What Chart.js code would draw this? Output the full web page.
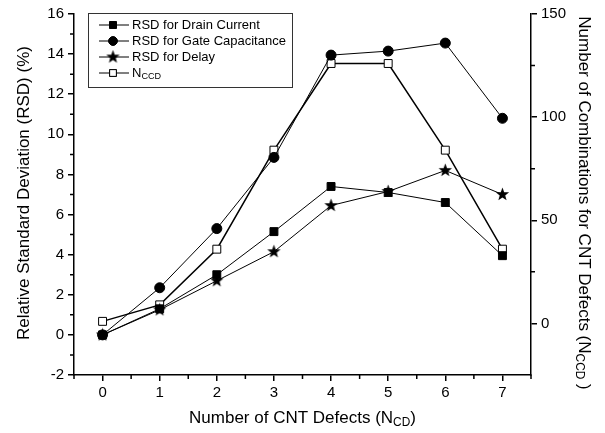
<!DOCTYPE html>
<html>
<head>
<meta charset="utf-8">
<script src="https://cdn.jsdelivr.net/npm/chart.js@4.4.1/dist/chart.umd.min.js"></script>
<style>
  html, body { margin: 0; padding: 0; background: #fff; }
  #wrap { width: 605px; height: 433px; }
</style>
</head>
<body>
<div id="wrap"><canvas id="chart" width="605" height="433"></canvas></div>
<script>
// data
const defects = [0, 1, 2, 3, 4, 5, 6, 7];
const rsdDrain = [0, 1.3, 3.0, 5.15, 7.4, 7.1, 6.6, 3.95];
const rsdGate = [0, 2.35, 5.3, 8.85, 13.95, 14.15, 14.55, 10.8];
const rsdDelay = [0, 1.25, 2.7, 4.15, 6.45, 7.15, 8.2, 7.0];
const nccd = [1, 9, 36, 84, 126, 126, 84, 36];

const leftTicks = [-2, 0, 2, 4, 6, 8, 10, 12, 14, 16];
const rightTicks = [0, 50, 100, 150];

const FONT = "'Liberation Sans', Arial, sans-serif";

// filled 5-point star used as a point style
function makeStar(size, outer, inner) {
    const c = document.createElement('canvas');
    c.width = size; c.height = size;
    const g = c.getContext('2d');
    g.fillStyle = '#000';
    g.beginPath();
    for (let i = 0; i < 10; i++) {
        const r = i % 2 ? inner : outer;
        const a = -Math.PI / 2 + i * Math.PI / 5;
        g.lineTo(size / 2 + r * Math.cos(a), size / 2 + r * Math.sin(a));
    }
    g.closePath();
    g.fill();
    return c;
}
const star = makeStar(15, 7, 2.9);

const pts = arr => arr.map((v, i) => ({ x: defects[i], y: v }));

const datasets = [
    { label: 'RSD for Drain Current', data: pts(rsdDrain), yAxisID: 'y',
      pointStyle: 'rect', pointRadius: 5.6, pointBackgroundColor: '#000', borderWidth: 1 },
    { label: 'RSD for Gate Capacitance', data: pts(rsdGate), yAxisID: 'y',
      pointStyle: 'circle', pointRadius: 5, pointBackgroundColor: '#000', borderWidth: 1 },
    { label: 'RSD for Delay', data: pts(rsdDelay), yAxisID: 'y',
      pointStyle: star, pointRadius: 6, pointBackgroundColor: '#000', borderWidth: 1 },
    { label: 'N', sub: 'CCD', data: pts(nccd), yAxisID: 'y1',
      pointStyle: 'rect', pointRadius: 5.6, pointBackgroundColor: '#fff', borderWidth: 1.5 }
].map(d => Object.assign({
    borderColor: '#000', pointBorderColor: '#000', pointBorderWidth: 1,
    tension: 0, fill: false
}, d));

// text with an optional subscript part
function drawSub(ctx, parts, x, y, size) {
    let w = 0;
    parts.forEach(p => {
        ctx.font = (p.sub ? size * 0.7 : size) + 'px ' + FONT;
        w += ctx.measureText(p.t).width;
    });
    let cx = x - w / 2;
    ctx.textAlign = 'left';
    parts.forEach(p => {
        ctx.font = (p.sub ? size * 0.7 : size) + 'px ' + FONT;
        ctx.fillText(p.t, cx, p.sub ? y + size * 0.3 : y);
        cx += ctx.measureText(p.t).width;
    });
}

const extras = {
    id: 'extras',
    afterDraw(chart) {
        const { ctx, chartArea: a, scales } = chart;
        ctx.save();
        ctx.strokeStyle = '#000';
        ctx.fillStyle = '#000';
        ctx.lineWidth = 1.5;

        // minor ticks
        const minor = 4;
        ctx.beginPath();
        for (let v = -0.5; v <= 7.5; v += 1) {
            const px = scales.x.getPixelForValue(v);
            ctx.moveTo(px, a.bottom); ctx.lineTo(px, a.bottom + minor);
        }
        for (let v = -1; v <= 15; v += 2) {
            const py = scales.y.getPixelForValue(v);
            ctx.moveTo(a.left, py); ctx.lineTo(a.left - minor, py);
        }
        for (let v = 25; v <= 125; v += 50) {
            const py = scales.y1.getPixelForValue(v);
            ctx.moveTo(a.right, py); ctx.lineTo(a.right + minor, py);
        }
        ctx.stroke();

        // axis titles
        ctx.textBaseline = 'middle';
        drawSub(ctx, [{ t: 'Number of CNT Defects (N' }, { t: 'CD', sub: true }, { t: ')' }],
            (a.left + a.right) / 2, 418, 17);

        ctx.save();
        ctx.translate(24, 193);
        ctx.rotate(-Math.PI / 2);
        drawSub(ctx, [{ t: 'Relative Standard Deviation (RSD) (%)' }], 0, 0, 17);
        ctx.restore();

        ctx.save();
        ctx.translate(584, 203);
        ctx.rotate(Math.PI / 2);
        drawSub(ctx, [{ t: 'Number of Combinations for CNT Defects (N' }, { t: 'CCD', sub: true }, { t: ' )' }],
            0, 0, 17);
        ctx.restore();

        // legend box
        const bx = 88, by = 13, bw = 204, bh = 74;
        ctx.lineWidth = 1;
        ctx.strokeStyle = '#333';
        ctx.strokeRect(bx + 0.5, by + 0.5, bw, bh);
        chart.data.datasets.forEach((d, i) => {
            const y = by + 12 + i * 16;
            ctx.strokeStyle = '#000';
            ctx.lineWidth = 1;
            ctx.beginPath();
            ctx.moveTo(bx + 11, y); ctx.lineTo(bx + 41, y);
            ctx.stroke();
            Chart.helpers.drawPoint(ctx, {
                pointStyle: d.pointStyle,
                radius: d.pointStyle === star ? 6 : d.pointRadius * 0.85,
                borderWidth: 1, rotation: 0
            }, bx + 25, y);
            ctx.fillStyle = d.pointBackgroundColor;
            ctx.strokeStyle = '#000';
            if (d.pointStyle !== star) {
                ctx.fill();
                ctx.stroke();
            }
            ctx.fillStyle = '#000';
            ctx.textBaseline = 'middle';
            const parts = d.sub ? [{ t: d.label }, { t: d.sub, sub: true }] : [{ t: d.label }];
            let w = 0;
            parts.forEach(p => { ctx.font = (p.sub ? 9.1 : 13) + 'px ' + FONT; w += ctx.measureText(p.t).width; });
            drawSub(ctx, parts, bx + 44 + w / 2, y, 13);
        });
        ctx.restore();
    }
};

const tickFont = { family: FONT, size: 15 };
const axisGrid = { display: true, drawOnChartArea: false, drawTicks: true, tickLength: 6, color: '#000', lineWidth: 1.5 };
const axisBorder = { display: true, color: '#000', width: 1.5 };

new Chart(document.getElementById('chart'), {
    type: 'line',
    data: { datasets },
    plugins: [extras],
    options: {
        responsive: false,
        animation: false,
        devicePixelRatio: 1,
        layout: { padding: { top: 14, left: 0, right: 0, bottom: 0 } },
        plugins: { legend: { display: false }, tooltip: { enabled: false } },
        scales: {
            x: {
                type: 'linear', min: -0.5, max: 7.5,
                afterBuildTicks: s => { s.ticks = defects.map(v => ({ value: v })); },
                afterFit: s => { s.height = 58; },
                ticks: { font: tickFont, color: '#000', padding: 3, maxRotation: 0, callback: v => String(v) },
                grid: axisGrid, border: axisBorder
            },
            y: {
                type: 'linear', position: 'left', min: -2, max: 16,
                afterBuildTicks: s => { s.ticks = leftTicks.map(v => ({ value: v })); },
                afterFit: s => { s.width = 74; },
                ticks: { font: tickFont, color: '#000', padding: 4, callback: v => String(v) },
                grid: axisGrid, border: axisBorder
            },
            y1: {
                type: 'linear', position: 'right', min: -25, max: 150,
                afterBuildTicks: s => { s.ticks = rightTicks.map(v => ({ value: v })); },
                afterFit: s => { s.width = 74; },
                ticks: { font: tickFont, color: '#000', padding: 4, callback: v => String(v) },
                grid: axisGrid, border: axisBorder
            }
        }
    }
});
</script>
</body>
</html>
